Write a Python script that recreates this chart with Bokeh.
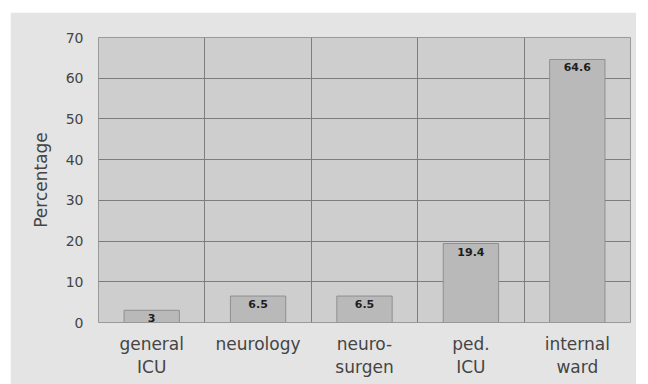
from bokeh.plotting import figure
from bokeh.models import ColumnDataSource, FixedTicker, Range1d, LabelSet
from bokeh.core.properties import value
from bokeh.embed import file_html
from bokeh.resources import INLINE

categories = ["general\nICU", "neurology", "neuro-\nsurgen", "ped.\nICU", "internal\nward"]
values = [3, 6.5, 6.5, 19.4, 64.6]
value_labels = ["3", "6.5", "6.5", "19.4", "64.6"]
y_ticks = [0, 10, 20, 30, 40, 50, 60, 70]

FONT = "DejaVu Sans"
TXT = "#454545"

xs = [i + 0.5 for i in range(len(categories))]
src = ColumnDataSource(dict(x=xs, top=values, lab=value_labels))

p = figure(width=626, height=372, output_backend="svg", toolbar_location=None,
           x_range=Range1d(0, len(categories)), y_range=Range1d(0, 70),
           min_border_left=88, min_border_right=6, min_border_top=25, min_border_bottom=62)
p.margin = (12, 0, 0, 10)
p.border_fill_color = "#e4e4e4"
p.background_fill_color = "#cecece"
p.outline_line_color = "#9a9a9a"

p.vbar(x="x", top="top", width=0.52, source=src, fill_color="#b9b9b9",
       line_color="#8f8f8f", line_width=1)

labels = LabelSet(x="x", y="top", text="lab", source=src, y_offset=-4,
                  text_align="center", text_baseline="top",
                  text_font_size="11px", text_font_style="bold", text_color="#1e1e1e",
                  text_font=value(FONT))
p.add_layout(labels)

p.xaxis.ticker = FixedTicker(ticks=xs)
p.xaxis.major_label_overrides = {x: c for x, c in zip(xs, categories)}
p.yaxis.ticker = FixedTicker(ticks=y_ticks)
p.xgrid.ticker = FixedTicker(ticks=list(range(1, len(categories))))
p.ygrid.ticker = FixedTicker(ticks=y_ticks)
p.xgrid.grid_line_color = "#7d7d7d"
p.ygrid.grid_line_color = "#7d7d7d"

for ax in (p.xaxis[0], p.yaxis[0]):
    ax.axis_line_color = None
    ax.major_tick_line_color = None
    ax.minor_tick_line_color = None
    ax.major_label_text_font = FONT
    ax.major_label_text_color = TXT
p.xaxis.major_label_text_font_size = "17px"
p.xaxis.major_label_text_line_height = 1.15
p.yaxis.major_label_text_font_size = "14px"
p.yaxis.major_label_standoff = 9
p.xaxis.major_label_standoff = 5

p.yaxis.axis_label = "Percentage"
p.yaxis.axis_label_text_font = FONT
p.yaxis.axis_label_text_font_style = "normal"
p.yaxis.axis_label_text_font_size = "17px"
p.yaxis.axis_label_text_color = TXT
p.yaxis.axis_label_standoff = 12

open("out.html", "w").write(file_html(p, INLINE))
